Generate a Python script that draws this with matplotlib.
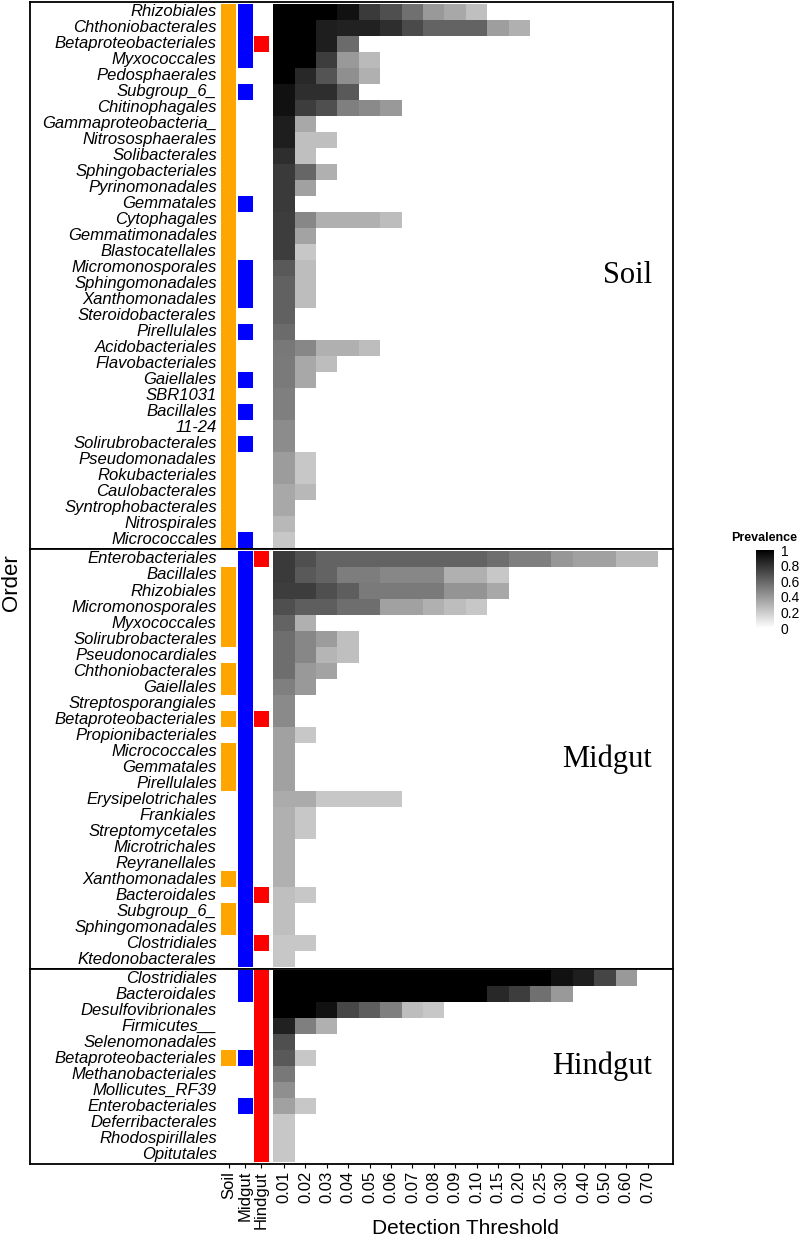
import numpy as np
import matplotlib.pyplot as plt
from matplotlib.colors import LinearSegmentedColormap

plt.rcParams['font.family'] = ['Liberation Sans', 'DejaVu Sans']

# data
thresholds = ["0.01", "0.02", "0.03", "0.04", "0.05", "0.06", "0.07", "0.08", "0.09",
              "0.10", "0.15", "0.20", "0.25", "0.30", "0.40", "0.50", "0.60", "0.70"]
sources = ["Soil", "Midgut", "Hindgut"]

soil_orders = ["Rhizobiales", "Chthoniobacterales", "Betaproteobacteriales", "Myxococcales",
               "Pedosphaerales", "Subgroup_6_", "Chitinophagales", "Gammaproteobacteria_",
               "Nitrososphaerales", "Solibacterales", "Sphingobacteriales", "Pyrinomonadales",
               "Gemmatales", "Cytophagales", "Gemmatimonadales", "Blastocatellales",
               "Micromonosporales", "Sphingomonadales", "Xanthomonadales", "Steroidobacterales",
               "Pirellulales", "Acidobacteriales", "Flavobacteriales", "Gaiellales", "SBR1031",
               "Bacillales", "11-24", "Solirubrobacterales", "Pseudomonadales", "Rokubacteriales",
               "Caulobacterales", "Syntrophobacterales", "Nitrospirales", "Micrococcales"]
soil_in_soil = [1] * 34
soil_in_midgut = [1, 1, 1, 1, 0, 1, 0, 0, 0, 0, 0, 0, 1, 0, 0, 0, 1, 1, 1, 0,
                  1, 0, 0, 1, 0, 1, 0, 1, 0, 0, 0, 0, 0, 1]
soil_in_hindgut = [0, 0, 1, 0, 0, 0, 0, 0, 0, 0, 0, 0, 0, 0, 0, 0, 0, 0, 0, 0,
                   0, 0, 0, 0, 0, 0, 0, 0, 0, 0, 0, 0, 0, 0]
soil_prev = [
    [1, 1, 1, 0.93, 0.77, 0.69, 0.56, 0.40, 0.34, 0.25],
    [1, 1, 0.88, 0.87, 0.87, 0.82, 0.71, 0.61, 0.61, 0.61, 0.38, 0.31],
    [1, 1, 0.88, 0.58],
    [1, 1, 0.76, 0.40, 0.27],
    [1, 0.84, 0.67, 0.44, 0.31],
    [0.93, 0.82, 0.82, 0.65],
    [0.93, 0.76, 0.69, 0.50, 0.46, 0.40],
    [0.88, 0.34],
    [0.88, 0.25, 0.25],
    [0.82, 0.25],
    [0.77, 0.60, 0.31],
    [0.77, 0.37],
    [0.77],
    [0.76, 0.47, 0.31, 0.31, 0.31, 0.26],
    [0.76, 0.36],
    [0.76, 0.22],
    [0.65, 0.26],
    [0.62, 0.26],
    [0.62, 0.26],
    [0.62],
    [0.58],
    [0.53, 0.47, 0.31, 0.31, 0.26],
    [0.52, 0.34, 0.26],
    [0.52, 0.34],
    [0.50],
    [0.50],
    [0.45],
    [0.45],
    [0.39, 0.22],
    [0.39, 0.22],
    [0.34, 0.28],
    [0.34],
    [0.28],
    [0.22],
]

midgut_orders = ["Enterobacteriales", "Bacillales", "Rhizobiales", "Micromonosporales",
                 "Myxococcales", "Solirubrobacterales", "Pseudonocardiales", "Chthoniobacterales",
                 "Gaiellales", "Streptosporangiales", "Betaproteobacteriales", "Propionibacteriales",
                 "Micrococcales", "Gemmatales", "Pirellulales", "Erysipelotrichales", "Frankiales",
                 "Streptomycetales", "Microtrichales", "Reyranellales", "Xanthomonadales",
                 "Bacteroidales", "Subgroup_6_", "Sphingomonadales", "Clostridiales",
                 "Ktedonobacterales"]
midgut_in_soil = [0, 1, 1, 1, 1, 1, 0, 1, 1, 0, 1, 0, 1, 1, 1, 0, 0, 0, 0, 0,
                  1, 0, 1, 1, 0, 0]
midgut_in_midgut = [1] * 26
midgut_in_hindgut = [1, 0, 0, 0, 0, 0, 0, 0, 0, 0, 1, 0, 0, 0, 0, 0, 0, 0, 0, 0,
                     0, 1, 0, 0, 1, 0]
midgut_prev = [
    [0.77, 0.69, 0.61, 0.61, 0.61, 0.61, 0.61, 0.61, 0.61, 0.61, 0.57, 0.50, 0.50, 0.41,
     0.37, 0.37, 0.28, 0.28],
    [0.77, 0.65, 0.61, 0.51, 0.51, 0.47, 0.47, 0.47, 0.31, 0.31, 0.22],
    [0.76, 0.76, 0.69, 0.63, 0.52, 0.52, 0.52, 0.52, 0.42, 0.42, 0.34],
    [0.69, 0.63, 0.63, 0.57, 0.57, 0.37, 0.37, 0.31, 0.26, 0.22],
    [0.61, 0.31],
    [0.57, 0.47, 0.39, 0.25],
    [0.57, 0.47, 0.29, 0.25],
    [0.57, 0.40, 0.36],
    [0.50, 0.40],
    [0.46],
    [0.46],
    [0.37, 0.22],
    [0.37],
    [0.37],
    [0.37],
    [0.33, 0.33, 0.22, 0.22, 0.22, 0.22],
    [0.31, 0.22],
    [0.31, 0.22],
    [0.31],
    [0.31],
    [0.31],
    [0.25, 0.22],
    [0.25],
    [0.25],
    [0.22, 0.22],
    [0.22],
]

hindgut_orders = ["Clostridiales", "Bacteroidales", "Desulfovibrionales", "Firmicutes__",
                  "Selenomonadales", "Betaproteobacteriales", "Methanobacteriales",
                  "Mollicutes_RF39", "Enterobacteriales", "Deferribacterales",
                  "Rhodospirillales", "Opitutales"]
hindgut_in_soil = [0, 0, 0, 0, 0, 1, 0, 0, 0, 0, 0, 0]
hindgut_in_midgut = [1, 1, 0, 0, 0, 1, 0, 0, 1, 0, 0, 0]
hindgut_in_hindgut = [1] * 12
hindgut_prev = [
    [1, 1, 1, 1, 1, 1, 1, 1, 1, 1, 1, 1, 1, 0.93, 0.88, 0.73, 0.40],
    [1, 1, 1, 1, 1, 1, 1, 1, 1, 1, 0.84, 0.76, 0.56, 0.40],
    [1, 1, 0.93, 0.72, 0.63, 0.50, 0.26, 0.22],
    [0.87, 0.50, 0.31],
    [0.69],
    [0.65, 0.22],
    [0.53],
    [0.44],
    [0.37, 0.22],
    [0.22],
    [0.22],
    [0.22],
]

panels = [
    ("Soil", soil_orders, [soil_in_soil, soil_in_midgut, soil_in_hindgut], soil_prev),
    ("Midgut", midgut_orders, [midgut_in_soil, midgut_in_midgut, midgut_in_hindgut], midgut_prev),
    ("Hindgut", hindgut_orders, [hindgut_in_soil, hindgut_in_midgut, hindgut_in_hindgut], hindgut_prev),
]

# figure
fig = plt.figure(figsize=(8, 12.4), dpi=100)
pad = 0.1
gs = fig.add_gridspec(3, 1, height_ratios=[len(p[1]) + 2 * pad for p in panels],
                      left=30 / 800, right=673 / 800, top=1 - 2 / 1240, bottom=1 - 1164 / 1240,
                      hspace=0)
cmap = LinearSegmentedColormap.from_list("prev", ["white", "black"])
src_x = [-2.58, -1.81, -1.06]
src_colors = ["#FFA500", "#0000FF", "#FF0000"]
bar_w = 0.69

for i, (name, orders, flags, prev) in enumerate(panels):
    ax = fig.add_subplot(gs[i])
    n = len(orders)
    grid = np.full((n, len(thresholds)), np.nan)
    for r, row in enumerate(prev):
        grid[r, :len(row)] = row
    mesh = ax.pcolormesh(np.arange(len(thresholds) + 1) - 0.5, np.arange(n + 1) - 0.5,
                         np.ma.masked_invalid(grid), cmap=cmap, vmin=0, vmax=1)
    for k in range(3):
        rows = [r for r in range(n) if flags[k][r]]
        ax.barh(rows, bar_w, left=src_x[k] - bar_w / 2, height=1, color=src_colors[k])
    for r, o in enumerate(orders):
        ax.text(-3.14, r, o, ha='right', va='center', style='italic', fontsize=12)
    ax.text(17.2, (n - 1) / 2, name, ha='right', va='center',
            family='Liberation Serif', fontsize=22)
    ax.set_xlim(-11.87, 18.18)
    ax.set_ylim(n - 0.5 + pad, -0.5 - pad)
    ax.set_yticks([])
    for s in ax.spines.values():
        s.set_linewidth(1.3)
    if i < 2:
        ax.set_xticks([])
    else:
        ax.set_xticks(src_x + list(range(len(thresholds))))
        ax.set_xticklabels(sources + thresholds, rotation=90, fontsize=12)
        ax.tick_params(axis='x', length=3, pad=2)

fig.text(0.015, 1 - 583 / 1240, "Order", rotation=90, ha='center', va='center', fontsize=16)
fig.text(465 / 800, 1 - 1228 / 1240, "Detection Threshold", ha='center', va='center', fontsize=15)

# legend
cax = fig.add_axes([756 / 800, 1 - 628 / 1240, 18 / 800, 78 / 1240])
cb = fig.colorbar(mesh, cax=cax, ticks=[0, 0.2, 0.4, 0.6, 0.8, 1])
cb.ax.set_yticklabels(["0", "0.2", "0.4", "0.6", "0.8", "1"], fontsize=10)
cb.outline.set_visible(False)
cb.ax.tick_params(length=3, color='white', pad=2)
fig.text(797 / 800, 1 - 538 / 1240, "Prevalence", ha='right', va='center',
         fontsize=9, fontweight='bold')

fig.savefig("out.png", dpi=100)
